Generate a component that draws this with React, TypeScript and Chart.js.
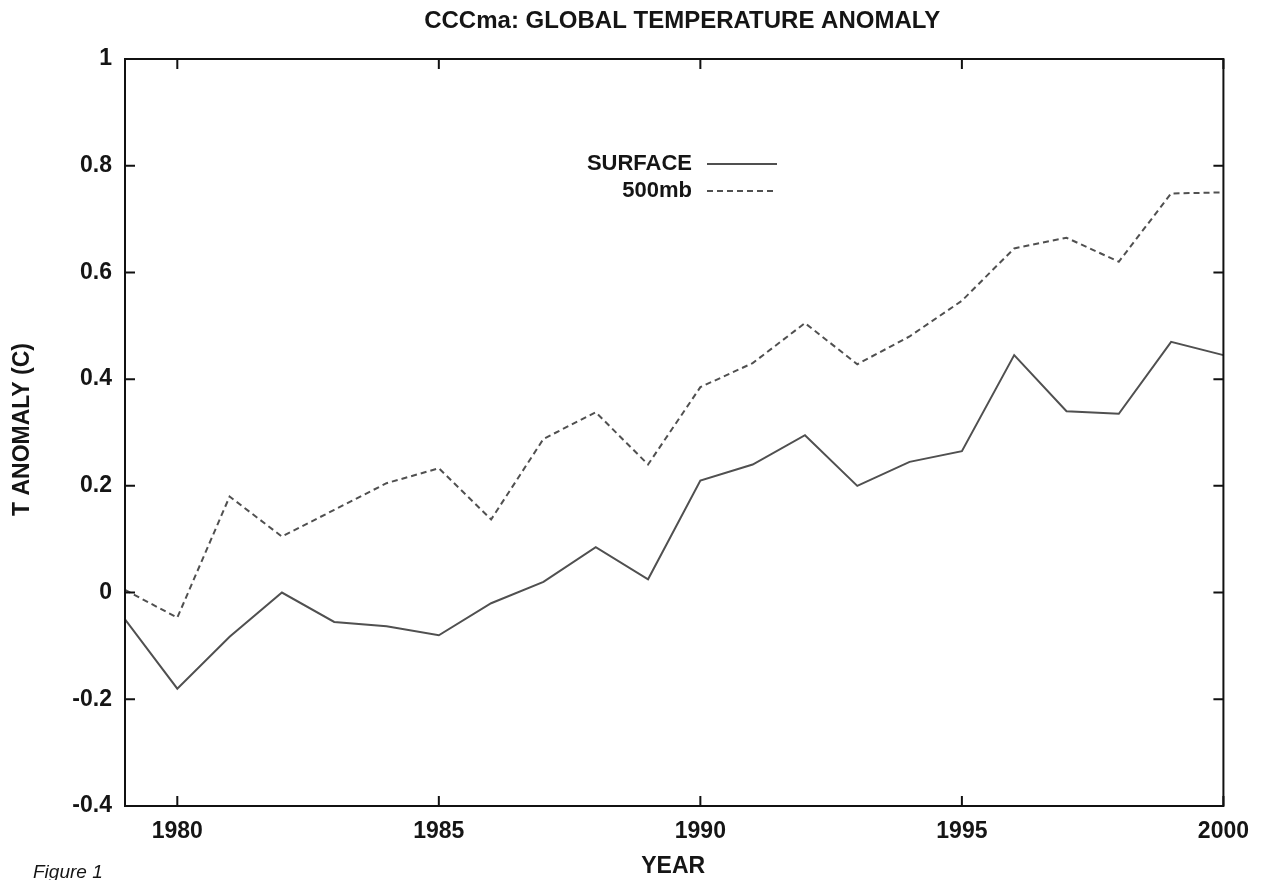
import React, { useEffect, useRef } from "react";
import { Chart, registerables } from "chart.js";

Chart.register(...registerables);

const years = [1979, 1980, 1981, 1982, 1983, 1984, 1985, 1986, 1987, 1988, 1989, 1990, 1991, 1992, 1993, 1994, 1995, 1996, 1997, 1998, 1999, 2000];
const surface = [-0.05, -0.18, -0.083, 0.0, -0.055, -0.063, -0.08, -0.02, 0.02, 0.085, 0.025, 0.21, 0.24, 0.295, 0.2, 0.245, 0.265, 0.445, 0.34, 0.335, 0.47, 0.445];
const mb500 = [0.005, -0.047, 0.18, 0.105, 0.155, 0.205, 0.233, 0.137, 0.288, 0.338, 0.24, 0.385, 0.43, 0.505, 0.428, 0.48, 0.547, 0.645, 0.665, 0.62, 0.748, 0.75];
const xTicks = [1980, 1985, 1990, 1995, 2000];
const yTicks = [-0.4, -0.2, 0, 0.2, 0.4, 0.6, 0.8, 1];
const seriesNames = ["SURFACE", "500mb"];
const titleText = "CCCma: GLOBAL TEMPERATURE ANOMALY";
const yTitle = "T ANOMALY (C)";
const xTitle = "YEAR";
const figLabel = "Figure 1";

const FONT = "'Liberation Sans', Arial, Helvetica, sans-serif";
const INK = "#151515";
const LINE = "#505050";

const framePlugin = {
  id: "frame",
  afterDraw(chart: any) {
    const { ctx, chartArea: a, scales } = chart;
    const xs = scales.x;
    const ys = scales.y;
    ctx.save();
    // frame
    ctx.strokeStyle = "#111";
    ctx.lineWidth = 2;
    ctx.strokeRect(a.left, a.top, a.right - a.left, a.bottom - a.top);
    // inward ticks
    const tl = 10;
    ctx.beginPath();
    for (const v of yTicks) {
      const y = ys.getPixelForValue(v);
      ctx.moveTo(a.left, y);
      ctx.lineTo(a.left + tl, y);
      ctx.moveTo(a.right, y);
      ctx.lineTo(a.right - tl, y);
    }
    for (const v of xTicks) {
      const x = xs.getPixelForValue(v);
      ctx.moveTo(x, a.bottom);
      ctx.lineTo(x, a.bottom - tl);
      ctx.moveTo(x, a.top);
      ctx.lineTo(x, a.top + tl);
    }
    ctx.stroke();

    // title
    ctx.fillStyle = INK;
    ctx.font = `bold 24px ${FONT}`;
    ctx.textAlign = "center";
    ctx.textBaseline = "middle";
    ctx.fillText(titleText, (a.left + a.right) / 2 + 8, 21);

    // y title
    ctx.save();
    ctx.translate(23, (a.top + a.bottom) / 2 - 3);
    ctx.rotate(-Math.PI / 2);
    ctx.font = `bold 23px ${FONT}`;
    ctx.fillText(yTitle, 0, 0);
    ctx.restore();

    // x title
    ctx.font = `bold 23px ${FONT}`;
    ctx.fillText(xTitle, (a.left + a.right) / 2 - 1, 867);

    // figure label
    ctx.font = `italic 19px ${FONT}`;
    ctx.textAlign = "left";
    ctx.textBaseline = "alphabetic";
    ctx.fillText(figLabel, 33, 878);

    // legend
    ctx.font = `bold 22px ${FONT}`;
    ctx.textAlign = "right";
    ctx.textBaseline = "middle";
    const lx = 692;
    const rows = [164, 191];
    const dashes = [[], [6, 4]];
    rows.forEach((ry, i) => {
      ctx.fillStyle = INK;
      ctx.fillText(seriesNames[i], lx, ry);
      ctx.beginPath();
      ctx.setLineDash(dashes[i]);
      ctx.strokeStyle = LINE;
      ctx.lineWidth = 2;
      ctx.moveTo(707, ry);
      ctx.lineTo(777, ry);
      ctx.stroke();
    });
    ctx.setLineDash([]);
    ctx.restore();
  },
};

export default function App() {
  const ref = useRef<HTMLCanvasElement | null>(null);
  useEffect(() => {
    document.body.style.margin = "0";
    const canvas = ref.current!;
    const chart = new Chart(canvas, {
      type: "line",
      data: {
        labels: years,
        datasets: [
          {
            label: seriesNames[0],
            data: years.map((y, i) => ({ x: y, y: surface[i] })),
            borderColor: LINE,
            borderWidth: 2,
            pointRadius: 0,
            tension: 0,
            fill: false,
          },
          {
            label: seriesNames[1],
            data: years.map((y, i) => ({ x: y, y: mb500[i] })),
            borderColor: LINE,
            borderWidth: 2,
            borderDash: [6, 4],
            pointRadius: 0,
            tension: 0,
            fill: false,
          },
        ],
      },
      options: {
        animation: false,
        responsive: false,
        devicePixelRatio: 1,
        layout: { padding: { top: 59, right: 36, bottom: 0, left: 0 } },
        plugins: {
          legend: { display: false },
          title: { display: false },
          tooltip: { enabled: false },
        },
        scales: {
          x: {
            type: "linear",
            min: 1979,
            max: 2000,
            afterBuildTicks: (s: any) => {
              s.ticks = xTicks.map((v) => ({ value: v }));
            },
            afterFit: (s: any) => {
              s.height = 74;
            },
            grid: { display: false, drawTicks: false },
            border: { display: false },
            ticks: {
              color: INK,
              font: { family: FONT, size: 23, weight: "bold" },
              padding: 12,
              maxRotation: 0,
              callback: (v: any) => String(v),
            },
          },
          y: {
            type: "linear",
            min: -0.4,
            max: 1,
            afterBuildTicks: (s: any) => {
              s.ticks = yTicks.map((v) => ({ value: v }));
            },
            afterFit: (s: any) => {
              s.width = 125;
            },
            grid: { display: false, drawTicks: false },
            border: { display: false },
            ticks: {
              color: INK,
              font: { family: FONT, size: 23, weight: "bold" },
              padding: 13,
              callback: (v: any) => String(Number(Number(v).toFixed(1))),
            },
          },
        },
      },
      plugins: [framePlugin],
    } as any);
    return () => chart.destroy();
  }, []);
  return (
    <div style={{ position: "absolute", left: 0, top: 0, width: 1261, height: 880, background: "#fff" }}>
      <canvas ref={ref} width={1261} height={880} />
    </div>
  );
}
